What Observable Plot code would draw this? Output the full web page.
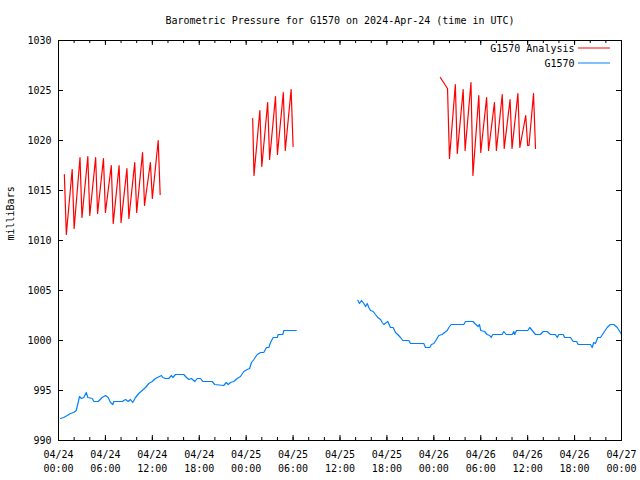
<!DOCTYPE html>
<html><head><meta charset="utf-8">
<script src="https://cdn.jsdelivr.net/npm/d3@7"></script>
<script src="https://cdn.jsdelivr.net/npm/@observablehq/plot@0.6"></script>
<style>body{margin:0;background:#fff}</style>
</head><body><div id="chart"></div>
<script>
const titleText = "Barometric Pressure for G1570 on 2024-Apr-24 (time in UTC)";
const yLabel = "milliBars";
const seriesNames = ["G1570 Analysis", "G1570"];
const seriesColors = ["#ff0000", "#0080ff"];
const yTicks = [990, 995, 1000, 1005, 1010, 1015, 1020, 1025, 1030];
const xStart = "24 00:00";
const xEnd = "27 00:00";

// G1570 Analysis (red), three runs
const analysisSeg1 = [
  ["24 00:45",1016.6],["24 01:00",1010.6],["24 01:45",1017.1],["24 02:00",1011.2],
  ["24 02:45",1018.3],["24 03:00",1012.3],["24 03:45",1018.4],["24 04:00",1012.5],
  ["24 04:45",1018.3],["24 05:00",1012.7],["24 05:45",1018.2],["24 06:00",1012.8],
  ["24 06:45",1017.5],["24 07:00",1011.7],["24 07:45",1017.5],["24 08:00",1011.8],
  ["24 08:45",1017.2],["24 09:00",1012.2],["24 09:45",1017.8],["24 10:00",1012.8],
  ["24 10:45",1018.8],["24 11:00",1013.5],["24 11:45",1017.8],["24 12:00",1014.2],
  ["24 12:45",1020.0],["24 13:00",1014.6]
];
const analysisSeg2 = [
  ["25 00:50",1022.2],["25 01:00",1016.5],["25 01:45",1023.0],["25 02:00",1017.4],
  ["25 02:45",1023.8],["25 03:00",1018.1],["25 03:45",1024.4],["25 04:00",1018.6],
  ["25 04:45",1024.8],["25 05:00",1019.0],["25 05:45",1025.1],["25 06:00",1019.4]
];
const analysisSeg3 = [
  ["26 00:50",1026.3],["26 01:15",1025.8],["26 01:45",1025.2],["26 02:00",1018.2],
  ["26 02:45",1025.6],["26 03:00",1018.7],["26 03:45",1025.1],["26 04:00",1019.0],
  ["26 04:45",1025.8],["26 05:00",1016.5],["26 05:45",1024.5],["26 06:00",1018.8],
  ["26 06:45",1024.3],["26 07:00",1019.0],["26 07:45",1023.8],["26 08:00",1019.0],
  ["26 08:45",1024.6],["26 09:00",1019.2],["26 09:45",1024.1],["26 10:00",1019.2],
  ["26 10:45",1024.7],["26 11:00",1019.3],["26 11:45",1022.5],["26 12:00",1019.5],
  ["26 12:10",1019.5],["26 12:45",1024.7],["26 13:00",1019.2]
];

// G1570 observations (blue), two segments
const obsSeg1 = [
  ["24 00:15",992.2],["24 00:40",992.3],["24 01:07",992.5],["24 01:32",992.7],["24 01:57",992.8],
  ["24 02:16",993.0],["24 02:31",993.8],["24 02:41",994.4],["24 02:56",994.2],["24 03:14",994.3],
  ["24 03:33",994.8],["24 03:45",994.3],["24 04:19",994.2],["24 04:31",993.9],["24 05:05",993.9],
  ["24 05:35",994.3],["24 06:01",994.5],["24 06:21",994.3],["24 06:39",993.8],["24 06:57",993.6],
  ["24 07:04",993.9],["24 08:09",993.9],["24 08:34",994.1],["24 08:55",993.9],["24 09:12",994.1],
  ["24 09:30",993.8],["24 09:51",994.3],["24 10:16",994.7],["24 10:42",995.0],["24 11:08",995.3],
  ["24 11:33",995.7],["24 11:59",995.9],["24 12:24",996.2],["24 13:10",996.5],["24 13:20",996.3],
  ["24 13:41",996.2],["24 14:06",996.2],["24 14:27",996.5],["24 14:37",996.3],["24 14:58",996.6],
  ["24 16:01",996.6],["24 16:22",996.3],["24 16:40",996.1],["24 17:00",996.2],["24 17:26",995.9],
  ["24 17:44",996.2],["24 18:10",996.2],["24 18:27",995.9],["24 19:39",995.9],["24 19:59",995.6],
  ["24 21:08",995.5],["24 21:27",995.8],["24 21:42",995.6],["24 22:00",995.8],["24 22:25",995.9],
  ["24 22:51",996.2],["24 23:16",996.4],["24 23:42",996.9],["25 00:08",997.1],["25 00:26",997.2],
  ["25 00:41",997.8],["25 00:59",998.1],["25 01:25",998.6],["25 01:50",998.8],["25 02:15",998.8],
  ["25 02:36",999.3],["25 02:54",999.3],["25 03:07",999.8],["25 03:27",1000.3],["25 03:58",1000.3],
  ["25 04:06",1000.6],["25 04:41",1000.6],["25 04:49",1001.0],["25 06:24",1001.0]
];
const obsSeg2 = [
  ["25 14:17",1004.0],["25 14:30",1003.7],["25 14:45",1004.0],["25 15:03",1003.7],["25 15:16",1003.4],
  ["25 15:29",1003.7],["25 15:41",1003.3],["25 15:54",1003.0],["25 16:15",1002.9],["25 16:32",1002.6],
  ["25 16:50",1002.3],["25 17:11",1002.1],["25 17:24",1001.8],["25 17:36",1001.6],["25 17:57",1001.8],
  ["25 18:07",1001.9],["25 18:27",1001.3],["25 18:48",1001.3],["25 19:06",1000.8],["25 19:23",1000.6],
  ["25 19:44",1000.3],["25 20:02",1000.0],["25 20:48",1000.0],["25 21:01",999.7],["25 22:43",999.7],
  ["25 22:56",999.3],["25 23:29",999.3],["25 23:42",999.6],["26 00:00",999.7],["26 00:20",1000.1],
  ["26 00:38",1000.5],["26 01:04",1000.6],["26 01:22",1000.8],["26 01:43",1001.0],["26 01:55",1001.3],
  ["26 02:13",1001.6],["26 03:50",1001.6],["26 04:03",1001.9],["26 05:00",1001.9],["26 05:14",1001.7],
  ["26 05:40",1001.4],["26 05:50",1001.6],["26 06:00",1001.0],["26 06:29",1000.9],["26 06:49",1000.6],
  ["26 07:09",1000.5],["26 07:20",1000.3],["26 07:32",1000.6],["26 08:44",1000.6],["26 08:57",1000.9],
  ["26 09:15",1000.6],["26 10:01",1000.6],["26 10:14",1000.9],["26 10:21",1000.6],["26 10:34",1001.0],
  ["26 12:01",1001.0],["26 12:16",1001.3],["26 12:35",1001.0],["26 13:00",1000.6],["26 13:38",1000.6],
  ["26 13:59",1000.9],["26 14:30",1000.9],["26 14:55",1000.6],["26 15:33",1000.6],["26 15:47",1000.3],
  ["26 15:59",1000.6],["26 16:33",1000.6],["26 16:43",1000.3],["26 17:29",1000.3],["26 17:49",999.9],
  ["26 18:15",999.9],["26 18:28",999.6],["26 20:02",999.6],["26 20:15",999.3],["26 20:27",999.8],
  ["26 20:40",999.7],["26 20:58",1000.3],["26 21:19",1000.3],["26 21:44",1000.8],["26 22:10",1001.3],
  ["26 22:35",1001.6],["26 23:01",1001.6],["26 23:27",1001.3],["26 23:52",1000.8],["27 00:00",1000.6]
];

(function () {
const parseT = d3.utcParse("%Y-%m-%d %H:%M");
const parse = s => parseT("2024-04-" + s);
const toRows = (arr, seg) => arr.map(([t, v]) => ({time: parse(t), value: v, seg}));
const analysisRows = [...toRows(analysisSeg1, 1), ...toRows(analysisSeg2, 2), ...toRows(analysisSeg3, 3)];
const obsRows = [...toRows(obsSeg1, 1), ...toRows(obsSeg2, 2)];

const x0 = parse(xStart), x1 = parse(xEnd);
const majorX = d3.utcHour.every(6).range(x0, d3.utcHour.offset(x1, 1));
const minorX = d3.utcHour.every(2).range(x0, d3.utcHour.offset(x1, 1));
const fmt = d3.utcFormat("%m/%d\n%H:%M");

const W = 640, H = 480, mL = 58, mR = 19, mT = 40, mB = 40;
const fh = H - mT - mB, fw = W - mL - mR;
const major = 5, minor = 3;

const plot = Plot.plot({
  width: W, height: H,
  marginLeft: mL, marginRight: mR, marginTop: mT, marginBottom: mB,
  style: {fontFamily: "'DejaVu Sans Mono', monospace", fontSize: "10px", background: "#fff", color: "#000"},
  x: {type: "utc", domain: [x0, x1]},
  y: {domain: [990, 1030]},
  marks: [
    Plot.line(analysisRows, {x: "time", y: "value", z: "seg", stroke: seriesColors[0], strokeWidth: 1.2}),
    Plot.line(obsRows, {x: "time", y: "value", z: "seg", stroke: seriesColors[1], strokeWidth: 1.2}),
    Plot.frame({stroke: "#000"}),
    Plot.tickX(majorX, {x: d => d, insetTop: fh - major, stroke: "#000"}),
    Plot.tickX(majorX, {x: d => d, insetBottom: fh - major, stroke: "#000"}),
    Plot.tickX(minorX, {x: d => d, insetTop: fh - minor, stroke: "#000"}),
    Plot.tickX(minorX, {x: d => d, insetBottom: fh - minor, stroke: "#000"}),
    Plot.tickY(yTicks, {y: d => d, insetRight: fw - major, stroke: "#000"}),
    Plot.tickY(yTicks, {y: d => d, insetLeft: fw - major, stroke: "#000"}),
    Plot.axisX({anchor: "bottom", ticks: majorX, tickSize: 0, tickPadding: 8, tickFormat: fmt, lineHeight: 1.4, label: null}),
    Plot.axisY({anchor: "left", ticks: yTicks, tickSize: 0, tickPadding: 7, tickFormat: d3.format("d"), label: null}),
    Plot.text([yLabel], {frameAnchor: "left", rotate: -90, dx: -48}),
    Plot.text([titleText], {frameAnchor: "top", lineAnchor: "middle", dy: -20}),
    Plot.text([seriesNames[0]], {frameAnchor: "top-right", lineAnchor: "middle", textAnchor: "end", dx: -47, dy: 8}),
    Plot.text([seriesNames[1]], {frameAnchor: "top-right", lineAnchor: "middle", textAnchor: "end", dx: -47, dy: 23})
  ]
});

const xr = plot.scale("x").range, yr = plot.scale("y").range;
const frameRight = Math.max(...xr), frameTop = Math.min(...yr);
const svg = d3.select(plot);
[0, 1].forEach(i => {
  svg.append("line")
    .attr("x1", frameRight - 43).attr("x2", frameRight - 11)
    .attr("y1", frameTop + 8 + 15 * i).attr("y2", frameTop + 8 + 15 * i)
    .attr("stroke", seriesColors[i]).attr("stroke-width", 1);
});

document.getElementById("chart").append(plot);
})();
</script>
</body></html>
